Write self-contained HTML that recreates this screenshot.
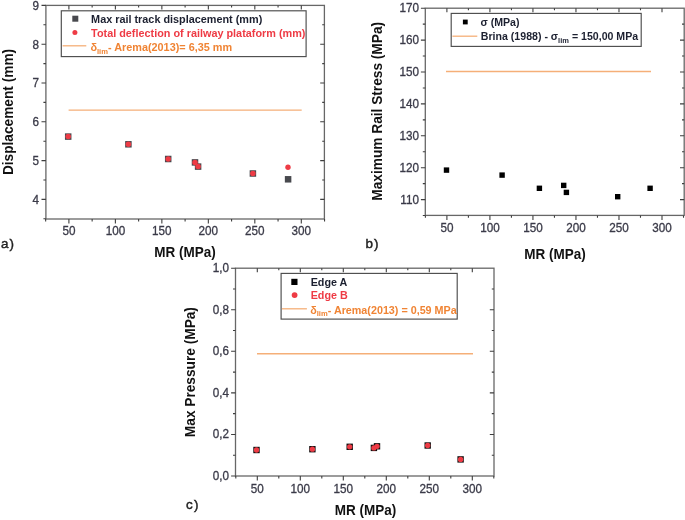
<!DOCTYPE html>
<html><head><meta charset="utf-8"><style>
html,body{margin:0;padding:0;background:#fff;}
body{width:685px;height:520px;overflow:hidden;}
svg{display:block;filter:blur(0.3px);font-family:"Liberation Sans", sans-serif;}
</style></head><body>
<svg width="685" height="520" viewBox="0 0 685 520">
<rect width="685" height="520" fill="#fff"/>
<rect x="45.9" y="5.4" width="278.5" height="213.6" fill="none" stroke="#676767" stroke-width="1.3"/>
<path d="M45.66 219v2.4 M68.9 219v4.6 M68.9 5.4v4 M92.14 219v2.4 M92.14 5.4v2 M115.38 219v4.6 M115.38 5.4v4 M138.62 219v2.4 M138.62 5.4v2 M161.86 219v4.6 M161.86 5.4v4 M185.1 219v2.4 M185.1 5.4v2 M208.34 219v4.6 M208.34 5.4v4 M231.58 219v2.4 M231.58 5.4v2 M254.82 219v4.6 M254.82 5.4v4 M278.06 219v2.4 M278.06 5.4v2 M301.3 219v4.6 M301.3 5.4v4 M324.54 219v2.4 M45.9 218.8h-2.5 M45.9 199.4h-4.4 M324.4 199.4h-4.2 M45.9 180h-2.5 M324.4 180h-2.2 M45.9 160.6h-4.4 M324.4 160.6h-4.2 M45.9 141.2h-2.5 M324.4 141.2h-2.2 M45.9 121.8h-4.4 M324.4 121.8h-4.2 M45.9 102.4h-2.5 M324.4 102.4h-2.2 M45.9 83h-4.4 M324.4 83h-4.2 M45.9 63.6h-2.5 M324.4 63.6h-2.2 M45.9 44.2h-4.4 M324.4 44.2h-4.2 M45.9 24.8h-2.5 M324.4 24.8h-2.2 M45.9 5.4h-4.4" stroke="#3e3e3e" stroke-width="1.1" fill="none"/>
<text transform="translate(38.9 203.72) scale(1 1.08)" font-size="11.7" text-anchor="end" fill="#3a3a48" stroke="#3a3a48" stroke-width="0.3">4</text>
<text transform="translate(38.9 164.92) scale(1 1.08)" font-size="11.7" text-anchor="end" fill="#3a3a48" stroke="#3a3a48" stroke-width="0.3">5</text>
<text transform="translate(38.9 126.12) scale(1 1.08)" font-size="11.7" text-anchor="end" fill="#3a3a48" stroke="#3a3a48" stroke-width="0.3">6</text>
<text transform="translate(38.9 87.32) scale(1 1.08)" font-size="11.7" text-anchor="end" fill="#3a3a48" stroke="#3a3a48" stroke-width="0.3">7</text>
<text transform="translate(38.9 48.52) scale(1 1.08)" font-size="11.7" text-anchor="end" fill="#3a3a48" stroke="#3a3a48" stroke-width="0.3">8</text>
<text transform="translate(38.9 9.72) scale(1 1.08)" font-size="11.7" text-anchor="end" fill="#3a3a48" stroke="#3a3a48" stroke-width="0.3">9</text>
<text transform="translate(68.9 234.97) scale(1 1.08)" font-size="11.7" text-anchor="middle" fill="#3a3a48" stroke="#3a3a48" stroke-width="0.3">50</text>
<text transform="translate(115.38 234.97) scale(1 1.08)" font-size="11.7" text-anchor="middle" fill="#3a3a48" stroke="#3a3a48" stroke-width="0.3">100</text>
<text transform="translate(161.86 234.97) scale(1 1.08)" font-size="11.7" text-anchor="middle" fill="#3a3a48" stroke="#3a3a48" stroke-width="0.3">150</text>
<text transform="translate(208.34 234.97) scale(1 1.08)" font-size="11.7" text-anchor="middle" fill="#3a3a48" stroke="#3a3a48" stroke-width="0.3">200</text>
<text transform="translate(254.82 234.97) scale(1 1.08)" font-size="11.7" text-anchor="middle" fill="#3a3a48" stroke="#3a3a48" stroke-width="0.3">250</text>
<text transform="translate(301.3 234.97) scale(1 1.08)" font-size="11.7" text-anchor="middle" fill="#3a3a48" stroke="#3a3a48" stroke-width="0.3">300</text>
<rect x="425.3" y="8.2" width="258.9" height="207.2" fill="none" stroke="#676767" stroke-width="1.3"/>
<path d="M425.39 215.4v2.4 M446.9 215.4v4.6 M446.9 8.2v4 M468.41 215.4v2.4 M468.41 8.2v2 M489.92 215.4v4.6 M489.92 8.2v4 M511.43 215.4v2.4 M511.43 8.2v2 M532.94 215.4v4.6 M532.94 8.2v4 M554.45 215.4v2.4 M554.45 8.2v2 M575.96 215.4v4.6 M575.96 8.2v4 M597.47 215.4v2.4 M597.47 8.2v2 M618.98 215.4v4.6 M618.98 8.2v4 M640.49 215.4v2.4 M640.49 8.2v2 M662 215.4v4.6 M662 8.2v4 M683.51 215.4v2.4 M425.3 215.55h-2.5 M425.3 199.6h-4.4 M684.2 199.6h-4.2 M425.3 183.65h-2.5 M684.2 183.65h-2.2 M425.3 167.7h-4.4 M684.2 167.7h-4.2 M425.3 151.75h-2.5 M684.2 151.75h-2.2 M425.3 135.8h-4.4 M684.2 135.8h-4.2 M425.3 119.85h-2.5 M684.2 119.85h-2.2 M425.3 103.9h-4.4 M684.2 103.9h-4.2 M425.3 87.95h-2.5 M684.2 87.95h-2.2 M425.3 72h-4.4 M684.2 72h-4.2 M425.3 56.05h-2.5 M684.2 56.05h-2.2 M425.3 40.1h-4.4 M684.2 40.1h-4.2 M425.3 24.15h-2.5 M684.2 24.15h-2.2 M425.3 8.2h-4.4" stroke="#3e3e3e" stroke-width="1.1" fill="none"/>
<text transform="translate(419 203.52) scale(1 1.08)" font-size="11.7" text-anchor="end" fill="#3a3a48" stroke="#3a3a48" stroke-width="0.3">110</text>
<text transform="translate(419 171.62) scale(1 1.08)" font-size="11.7" text-anchor="end" fill="#3a3a48" stroke="#3a3a48" stroke-width="0.3">120</text>
<text transform="translate(419 139.72) scale(1 1.08)" font-size="11.7" text-anchor="end" fill="#3a3a48" stroke="#3a3a48" stroke-width="0.3">130</text>
<text transform="translate(419 107.82) scale(1 1.08)" font-size="11.7" text-anchor="end" fill="#3a3a48" stroke="#3a3a48" stroke-width="0.3">140</text>
<text transform="translate(419 75.92) scale(1 1.08)" font-size="11.7" text-anchor="end" fill="#3a3a48" stroke="#3a3a48" stroke-width="0.3">150</text>
<text transform="translate(419 44.02) scale(1 1.08)" font-size="11.7" text-anchor="end" fill="#3a3a48" stroke="#3a3a48" stroke-width="0.3">160</text>
<text transform="translate(419 12.12) scale(1 1.08)" font-size="11.7" text-anchor="end" fill="#3a3a48" stroke="#3a3a48" stroke-width="0.3">170</text>
<text transform="translate(446.9 231.82) scale(1 1.08)" font-size="11.7" text-anchor="middle" fill="#3a3a48" stroke="#3a3a48" stroke-width="0.3">50</text>
<text transform="translate(489.92 231.82) scale(1 1.08)" font-size="11.7" text-anchor="middle" fill="#3a3a48" stroke="#3a3a48" stroke-width="0.3">100</text>
<text transform="translate(532.94 231.82) scale(1 1.08)" font-size="11.7" text-anchor="middle" fill="#3a3a48" stroke="#3a3a48" stroke-width="0.3">150</text>
<text transform="translate(575.96 231.82) scale(1 1.08)" font-size="11.7" text-anchor="middle" fill="#3a3a48" stroke="#3a3a48" stroke-width="0.3">200</text>
<text transform="translate(618.98 231.82) scale(1 1.08)" font-size="11.7" text-anchor="middle" fill="#3a3a48" stroke="#3a3a48" stroke-width="0.3">250</text>
<text transform="translate(662 231.82) scale(1 1.08)" font-size="11.7" text-anchor="middle" fill="#3a3a48" stroke="#3a3a48" stroke-width="0.3">300</text>
<rect x="235.5" y="268.2" width="258.5" height="207.8" fill="none" stroke="#676767" stroke-width="1.3"/>
<path d="M235.8 476v2.4 M257.3 476v4.6 M257.3 268.2v4 M278.8 476v2.4 M278.8 268.2v2 M300.3 476v4.6 M300.3 268.2v4 M321.8 476v2.4 M321.8 268.2v2 M343.3 476v4.6 M343.3 268.2v4 M364.8 476v2.4 M364.8 268.2v2 M386.3 476v4.6 M386.3 268.2v4 M407.8 476v2.4 M407.8 268.2v2 M429.3 476v4.6 M429.3 268.2v4 M450.8 476v2.4 M450.8 268.2v2 M472.3 476v4.6 M472.3 268.2v4 M493.8 476v2.4 M235.5 476h-4.4 M235.5 455.22h-2.5 M494 455.22h-2.2 M235.5 434.44h-4.4 M494 434.44h-4.2 M235.5 413.66h-2.5 M494 413.66h-2.2 M235.5 392.88h-4.4 M494 392.88h-4.2 M235.5 372.1h-2.5 M494 372.1h-2.2 M235.5 351.32h-4.4 M494 351.32h-4.2 M235.5 330.54h-2.5 M494 330.54h-2.2 M235.5 309.76h-4.4 M494 309.76h-4.2 M235.5 288.98h-2.5 M494 288.98h-2.2 M235.5 268.2h-4.4" stroke="#3e3e3e" stroke-width="1.1" fill="none"/>
<text transform="translate(229 479.82) scale(1 1.08)" font-size="11.7" text-anchor="end" fill="#3a3a48" stroke="#3a3a48" stroke-width="0.3">0,0</text>
<text transform="translate(229 438.26) scale(1 1.08)" font-size="11.7" text-anchor="end" fill="#3a3a48" stroke="#3a3a48" stroke-width="0.3">0,2</text>
<text transform="translate(229 396.7) scale(1 1.08)" font-size="11.7" text-anchor="end" fill="#3a3a48" stroke="#3a3a48" stroke-width="0.3">0,4</text>
<text transform="translate(229 355.14) scale(1 1.08)" font-size="11.7" text-anchor="end" fill="#3a3a48" stroke="#3a3a48" stroke-width="0.3">0,6</text>
<text transform="translate(229 313.58) scale(1 1.08)" font-size="11.7" text-anchor="end" fill="#3a3a48" stroke="#3a3a48" stroke-width="0.3">0,8</text>
<text transform="translate(229 272.02) scale(1 1.08)" font-size="11.7" text-anchor="end" fill="#3a3a48" stroke="#3a3a48" stroke-width="0.3">1,0</text>
<text transform="translate(257.3 492.82) scale(1 1.08)" font-size="11.7" text-anchor="middle" fill="#3a3a48" stroke="#3a3a48" stroke-width="0.3">50</text>
<text transform="translate(300.3 492.82) scale(1 1.08)" font-size="11.7" text-anchor="middle" fill="#3a3a48" stroke="#3a3a48" stroke-width="0.3">100</text>
<text transform="translate(343.3 492.82) scale(1 1.08)" font-size="11.7" text-anchor="middle" fill="#3a3a48" stroke="#3a3a48" stroke-width="0.3">150</text>
<text transform="translate(386.3 492.82) scale(1 1.08)" font-size="11.7" text-anchor="middle" fill="#3a3a48" stroke="#3a3a48" stroke-width="0.3">200</text>
<text transform="translate(429.3 492.82) scale(1 1.08)" font-size="11.7" text-anchor="middle" fill="#3a3a48" stroke="#3a3a48" stroke-width="0.3">250</text>
<text transform="translate(472.3 492.82) scale(1 1.08)" font-size="11.7" text-anchor="middle" fill="#3a3a48" stroke="#3a3a48" stroke-width="0.3">300</text>
<path d="M68.6 110.1H301.7M446 71.5H651M257 353.7H473" stroke="#f5af78" stroke-width="1.4" fill="none"/>
<rect x="64.95" y="133.35" width="6.5" height="6.5" fill="#48494e"/>
<rect x="125.15" y="141.05" width="6.5" height="6.5" fill="#48494e"/>
<rect x="164.95" y="155.75" width="6.5" height="6.5" fill="#48494e"/>
<rect x="191.75" y="159.15" width="6.5" height="6.5" fill="#48494e"/>
<rect x="194.85" y="163.35" width="6.5" height="6.5" fill="#48494e"/>
<rect x="249.65" y="170.25" width="6.5" height="6.5" fill="#48494e"/>
<circle cx="68.2" cy="136.6" r="2.75" fill="#ee3b45"/>
<circle cx="128.4" cy="144.3" r="2.75" fill="#ee3b45"/>
<circle cx="168.2" cy="159" r="2.75" fill="#ee3b45"/>
<circle cx="195" cy="162.4" r="2.75" fill="#ee3b45"/>
<circle cx="198.1" cy="166.6" r="2.75" fill="#ee3b45"/>
<circle cx="252.9" cy="173.5" r="2.75" fill="#ee3b45"/>
<rect x="284.85" y="176.05" width="6.5" height="6.5" fill="#48494e"/>
<circle cx="288" cy="167.2" r="2.7" fill="#ee3b45"/>
<rect x="443.8" y="167.4" width="5.4" height="5.4" fill="#000"/>
<rect x="499.4" y="172.4" width="5.4" height="5.4" fill="#000"/>
<rect x="536.7" y="185.6" width="5.4" height="5.4" fill="#000"/>
<rect x="561" y="182.7" width="5.4" height="5.4" fill="#000"/>
<rect x="563.7" y="189.7" width="5.4" height="5.4" fill="#000"/>
<rect x="615" y="194" width="5.4" height="5.4" fill="#000"/>
<rect x="647.4" y="185.6" width="5.4" height="5.4" fill="#000"/>
<rect x="253.3" y="446.8" width="6.4" height="6.4" fill="#111"/>
<rect x="309.2" y="446" width="6.4" height="6.4" fill="#111"/>
<rect x="346.5" y="443.6" width="6.4" height="6.4" fill="#111"/>
<rect x="370.7" y="444.7" width="6.4" height="6.4" fill="#111"/>
<rect x="373.8" y="443.1" width="6.4" height="6.4" fill="#111"/>
<rect x="424.5" y="442.3" width="6.4" height="6.4" fill="#111"/>
<rect x="457.4" y="456.2" width="6.4" height="6.4" fill="#111"/>
<circle cx="256.5" cy="450" r="2.65" fill="#ee3b45"/>
<circle cx="312.4" cy="449.2" r="2.65" fill="#ee3b45"/>
<circle cx="349.7" cy="446.8" r="2.65" fill="#ee3b45"/>
<circle cx="373.9" cy="447.9" r="2.65" fill="#ee3b45"/>
<circle cx="377" cy="446.3" r="2.65" fill="#ee3b45"/>
<circle cx="427.7" cy="445.5" r="2.65" fill="#ee3b45"/>
<circle cx="460.6" cy="459.4" r="2.65" fill="#ee3b45"/>
<rect x="61.3" y="10.8" width="244.8" height="45.8" fill="#fff" stroke="#4c4c4c" stroke-width="1.15"/>
<rect x="72.3" y="15.7" width="6" height="6" fill="#48494e"/>
<circle cx="74.9" cy="32.5" r="2.5" fill="#ee3b45"/>
<path d="M62.6 45.8H86.3" stroke="#f5af78" stroke-width="1.3"/>
<text transform="translate(91.1 22.6)" font-size="10.85" font-weight="bold" fill="#1c2030">Max rail track displacement (mm)</text>
<text transform="translate(91.1 36.7)" font-size="10.85" font-weight="bold" fill="#ee3b45">Total deflection of railway plataform (mm)</text>
<text transform="translate(90.4 51.3)" font-size="10.85" font-weight="bold" fill="#f08434">δ<tspan font-size="7.6" dy="2.6">lim</tspan><tspan dy="-2.6">- Arema(2013)= 6,35 mm</tspan></text>
<rect x="451.2" y="13.4" width="190" height="33" fill="#fff" stroke="#4c4c4c" stroke-width="1.15"/>
<rect x="462.9" y="19.6" width="4.8" height="4.8" fill="#000"/>
<path d="M452.4 36.2H477.3" stroke="#f5af78" stroke-width="1.3"/>
<text transform="translate(480.5 26.3)" font-size="10.6" font-weight="bold" fill="#1c2030">σ (MPa)</text>
<text transform="translate(480.8 40.4)" font-size="10.6" font-weight="bold" fill="#1c2030">Brina (1988) - σ<tspan font-size="7.5" dy="2.6">lim</tspan><tspan dy="-2.6"> = 150,00 MPa</tspan></text>
<rect x="281.1" y="273.4" width="176.1" height="45.7" fill="#fff" stroke="#4c4c4c" stroke-width="1.15"/>
<rect x="291.3" y="278.8" width="6.2" height="6.2" fill="#000"/>
<circle cx="294.6" cy="295.1" r="2.9" fill="#ee3b45"/>
<path d="M282 308.8H306.9" stroke="#f5af78" stroke-width="1.3"/>
<text transform="translate(310.7 285.8)" font-size="10.75" font-weight="bold" fill="#1c2030">Edge A</text>
<text transform="translate(310.7 298.7)" font-size="10.75" font-weight="bold" fill="#ee3b45">Edge B</text>
<text transform="translate(310.2 313.5)" font-size="10.75" font-weight="bold" fill="#f08434">δ<tspan font-size="7.6" dy="2.6">lim</tspan><tspan dy="-2.6">- Arema(2013) = 0,59 MPa</tspan></text>
<text transform="translate(185 256.6) scale(1 1.07)" font-size="13.5" font-weight="bold" text-anchor="middle" fill="#111">MR (MPa)</text>
<text transform="translate(555 258.6) scale(1 1.07)" font-size="13.5" font-weight="bold" text-anchor="middle" fill="#111">MR (MPa)</text>
<text transform="translate(365.5 515.1) scale(1 1.07)" font-size="13.5" font-weight="bold" text-anchor="middle" fill="#111">MR (MPa)</text>
<text transform="translate(12.8 112) rotate(-90) scale(1 1.07)" font-size="13.7" font-weight="bold" text-anchor="middle" fill="#111">Displacement (mm)</text>
<text transform="translate(381.5 111.3) rotate(-90) scale(1 1.07)" font-size="13.7" font-weight="bold" text-anchor="middle" fill="#111">Maximum Rail Stress (MPa)</text>
<text transform="translate(195.2 372.1) rotate(-90) scale(1 1.07)" font-size="13.7" font-weight="bold" text-anchor="middle" fill="#111">Max Pressure (MPa)</text>
<g letter-spacing="1.1" stroke="#222" stroke-width="0.45">
<text transform="translate(0.9 248.1)" font-size="13.4" fill="#222">a)</text>
<text transform="translate(365.5 248.2)" font-size="13.4" fill="#222">b)</text>
<text transform="translate(186.1 509.1)" font-size="13.4" fill="#222">c)</text>
</g>
</svg>
</body></html>
